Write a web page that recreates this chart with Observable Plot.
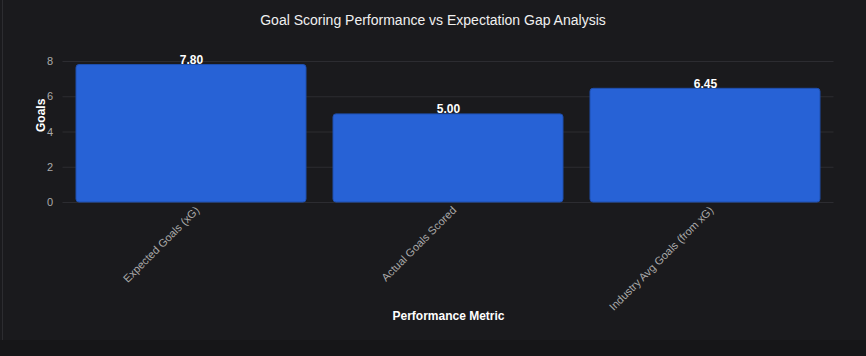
<!DOCTYPE html>
<html>
<head>
<meta charset="utf-8">
<script src="https://cdn.jsdelivr.net/npm/d3@7"></script>
<script src="https://cdn.jsdelivr.net/npm/@observablehq/plot@0.6"></script>
<style>
  html, body { margin: 0; padding: 0; background: #1a1a1d; }
  body { width: 866px; height: 356px; overflow: hidden; position: relative; font-family: "Liberation Sans", Arial, sans-serif; }
  #title { position: absolute; left: 0; top: 0; width: 866px; height: 40px; line-height: 40px; text-align: center; color: #f0f0f0; font-size: 14px; }
  #chart { position: absolute; left: 0; top: 40px; }
  #frame { position: absolute; left: 2px; top: 0; width: 1px; height: 340px; background: #2c2c30; }
  #bottom { position: absolute; left: 0; top: 340px; width: 866px; height: 16px; background: #161618; }
</style>
</head>
<body>
<div id="title">Goal Scoring Performance vs Expectation Gap Analysis</div>
<div id="chart"></div>
<div id="frame"></div>
<div id="bottom"></div>
<script>
const categories = ["Expected Goals (xG)", "Actual Goals Scored", "Industry Avg Goals (from xG)"];
const values = [7.80, 5.00, 6.45];
const yTicks = [0, 2, 4, 6, 8];

const data = categories.map((c, i) => ({category: c, value: values[i]}));

const chart = Plot.plot({
  width: 866,
  height: 316,
  marginTop: 21,
  marginBottom: 154,
  marginLeft: 62.5,
  marginRight: 32.5,
  style: {background: "transparent", color: "#aaaaaa", fontFamily: "Liberation Sans, Arial, sans-serif", fontSize: "11px"},
  x: {domain: categories, paddingInner: 0.105, paddingOuter: 0.0525, label: null},
  y: {domain: [0, 8], label: null},
  marks: [
    Plot.ruleY(yTicks, {stroke: "#2c2c31", strokeWidth: 1}),
    Plot.barY(data, {x: "category", y: "value", fill: "#2762d6", stroke: "#1f4fae", strokeWidth: 1, rx: 3}),
    Plot.text(data, {x: "category", y: "value", text: d => d.value.toFixed(2), lineAnchor: "bottom", dy: -1, fill: "#ffffff", fontWeight: "bold", fontSize: 12}),
    Plot.axisY(yTicks, {tickSize: 0, tickPadding: 10, label: null, fill: "#aaaaaa", fontSize: 11}),
    Plot.axisX({tickSize: 0, tickRotate: -45, tickPadding: 6, label: null, fill: "#aaaaaa", fontSize: 11, dx: 6}),
    Plot.text(["Goals"], {frameAnchor: "left", dx: -21.5, rotate: -90, fill: "#ffffff", fontWeight: "bold", fontSize: 12}),
    Plot.text(["Performance Metric"], {frameAnchor: "bottom", dy: 117, fill: "#ffffff", fontWeight: "bold", fontSize: 12})
  ]
});
document.getElementById("chart").appendChild(chart);
</script>
</body>
</html>
